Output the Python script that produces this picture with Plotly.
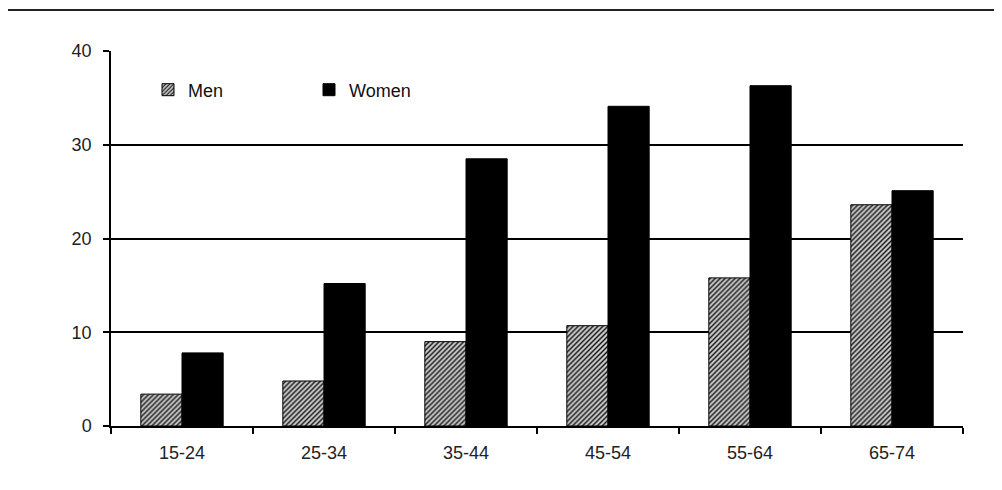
import plotly.graph_objects as go

categories = ["15-24", "25-34", "35-44", "45-54", "55-64", "65-74"]
men = [3.4, 4.8, 9.0, 10.7, 15.8, 23.6]
women = [7.8, 15.2, 28.5, 34.1, 36.3, 25.1]
y_ticks = [0, 10, 20, 30, 40]

# page has an 8px body margin, so figure is sized/offset to compensate
L, R, T, B = 103, 39, 43, 64
W, H = 994, 482
plot_h = H - T - B
plot_w = W - L - R

fig = go.Figure()
fig.add_trace(go.Bar(
    x=categories, y=men, name="Men",
    marker=dict(color="#b0b0b0", line=dict(color="black", width=1),
                pattern=dict(shape="/", size=3.5, solidity=0.4,
                             fgcolor="#111111", bgcolor="#cccccc", fillmode="replace")),
))
fig.add_trace(go.Bar(
    x=categories, y=women, name="Women",
    marker=dict(color="black", line=dict(color="black", width=1)),
))

fig.update_layout(
    width=W, height=H,
    margin=dict(l=L, r=R, t=T, b=B),
    paper_bgcolor="white", plot_bgcolor="white",
    font=dict(family="Liberation Sans, Arial, sans-serif", size=18, color="#222"),
    barmode="group", bargap=0.42, bargroupgap=0,
    showlegend=True,
    legend=dict(orientation="h", x=(148 - 111) / plot_w, y=1 - (90 - 51) / plot_h,
                xanchor="left", yanchor="middle",
                entrywidth=116, entrywidthmode="pixels",
                font=dict(size=18, color="#111"), bgcolor="rgba(0,0,0,0)",
                itemwidth=30, tracegroupgap=0),
    xaxis=dict(showline=True, linecolor="black", linewidth=1.5,
               ticks="outside", ticklen=6, tickcolor="black", tickwidth=1.5,
               tickson="boundaries", showgrid=False, fixedrange=True,
               tickfont=dict(size=18, color="#222"), ticklabelstandoff=10),
    yaxis=dict(range=[0, 40], tickvals=y_ticks, showline=True, linecolor="black", linewidth=1.5,
               ticks="outside", ticklen=6, tickcolor="black", tickwidth=1.5,
               showgrid=True, gridcolor="black", gridwidth=1.5, zeroline=False,
               tickfont=dict(size=18, color="#222"), ticklabelstandoff=8),
    shapes=[dict(type="line", xref="paper", yref="paper", x0=-L / plot_w, x1=1 + R / plot_w,
                 y0=1 + (T - 2) / plot_h, y1=1 + (T - 2) / plot_h,
                 line=dict(color="#222", width=2))],
)

fig.write_html("out.html")
